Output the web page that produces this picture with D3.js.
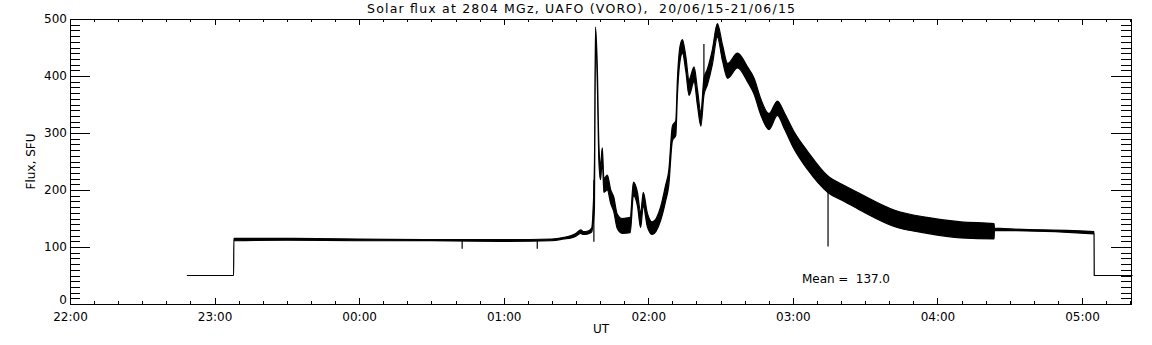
<!DOCTYPE html>
<html lang="en">
<head>
<meta charset="UTF-8">
<title>Solar flux</title>
<script src="https://d3js.org/d3.v7.min.js"></script>
<style>
  body { margin: 0; background: #fff; }
  text { font-family: "DejaVu Sans", sans-serif; fill: #000; }
</style>
</head>
<body>
<div id="chart"></div>
<script>
// envelope of the 2804 MHz record (the trace oscillates fast, so keep low/high)
const times = ["22:48:30", "23:07:54", "23:08:00", "23:30:00", "00:00:00", "00:30:00", "01:00:00",
  "01:20:00", "01:25:00", "01:28:00", "01:30:00", "01:32:00", "01:33:00", "01:35:00", "01:36:30",
  "01:37:00", "01:37:40", "01:38:05", "01:38:50", "01:39:30", "01:40:10", "01:40:55", "01:41:35",
  "01:43:00", "01:44:25", "01:45:40", "01:47:05", "01:49:10", "01:52:30", "01:53:50", "01:55:30",
  "01:56:50", "01:57:55", "01:59:35", "02:01:40", "02:05:05", "02:07:10", "02:08:30", "02:10:00",
  "02:11:25", "02:12:05", "02:13:10", "02:14:10", "02:15:35", "02:16:55", "02:19:00", "02:20:25",
  "02:21:50", "02:23:05", "02:24:30", "02:26:35", "02:28:40", "02:30:50", "02:32:55", "02:37:00",
  "02:41:10", "02:43:55", "02:46:40", "02:50:05", "02:53:35", "02:56:25", "03:00:30", "03:06:05",
  "03:14:25", "03:21:20", "03:28:10", "03:42:00", "03:55:40", "04:09:50", "04:23:30", "04:23:40",
  "05:05:00", "05:05:05", "05:21:00"];
const fluxLow = [50, 50, 111, 112, 111, 111, 110,
  111, 114, 116, 119, 124, 122, 123, 126,
  138, 170, 466, 390, 250, 218, 250, 196,
  200, 176, 162, 133, 124, 125, 190, 172,
  134, 172, 136, 122, 146, 180, 208, 286,
  296, 366, 426, 440, 408, 366, 390, 348,
  312, 366, 384, 420, 468, 426, 396, 414,
  390, 368, 332, 306, 331, 308, 272, 236,
  196, 180, 164, 136, 124, 116, 114, 129,
  123, 50, 50];
const fluxHigh = [50, 50, 115, 115, 114, 113, 113,
  114, 117, 120, 124, 130, 127, 128, 133,
  158, 250, 486, 418, 280, 244, 274, 220,
  226, 200, 188, 158, 150, 152, 214, 196,
  160, 196, 160, 144, 170, 208, 234, 312,
  322, 394, 452, 464, 434, 394, 416, 376,
  336, 396, 412, 446, 492, 454, 422, 440,
  416, 396, 360, 334, 356, 336, 302, 268,
  225, 208, 193, 165, 152, 144, 141, 133,
  127, 50, 50];

// single-sample spikes
const spikeTimes = ["00:42:45", "01:13:55", "01:37:25", "02:23:05", "03:14:36"];
const spikeFrom = [111, 111, 217, 381, 215];
const spikeTo = [97, 97, 109, 456, 101];

const yMajor = [0, 100, 200, 300, 400, 500];
const meanValue = 137.0;
const title = "Solar flux at 2804 MGz, UAFO (VORO),\u00a0\u00a020/06/15-21/06/15";

const width = 1152, height = 345;
const margin = {top: 19, right: 21, bottom: 41, left: 70};

const parse = d3.utcParse("%Y-%m-%d %H:%M:%S");
function toDate(s) {
  const h = +s.slice(0, 2);
  return parse((h >= 12 ? "2015-06-20 " : "2015-06-21 ") + s);
}

const data = times.map((t, i) => ({t: toDate(t), lo: fluxLow[i], hi: fluxHigh[i]}));
const spikes = spikeTimes.map((t, i) => ({t: toDate(t), a: spikeFrom[i], b: spikeTo[i]}));

const x = d3.scaleUtc()
  .domain([toDate("22:00:00"), toDate("05:20:20")])
  .range([margin.left, width - margin.right]);
const y = d3.scaleLinear()
  .domain([0, 500])
  .range([height - margin.bottom, margin.top]);

const svg = d3.select("#chart").append("svg")
  .attr("width", width)
  .attr("height", height);

// axes: IDL style, ticks pointing inward, on all four sides
const fmt = d3.utcFormat("%H:%M");
const hours = d3.utcHour.every(1);
const tenMin = d3.utcMinute.every(10);
const yMinor = d3.range(0, 501, 10);

function styleAxis(g) {
  g.select(".domain").remove();
  g.selectAll("line").attr("stroke", "#000").attr("shape-rendering", "crispEdges");
  g.selectAll("text").style("font-size", "12px").attr("font-family", "DejaVu Sans");
}

svg.append("g")
  .attr("transform", `translate(0,${height - margin.bottom})`)
  .call(d3.axisBottom(x).ticks(tenMin).tickSize(-3).tickFormat(""))
  .call(styleAxis);
svg.append("g")
  .attr("transform", `translate(0,${height - margin.bottom})`)
  .call(d3.axisBottom(x).ticks(hours).tickSize(-6).tickPadding(8).tickFormat(fmt))
  .call(styleAxis);
svg.append("g")
  .attr("transform", `translate(0,${margin.top})`)
  .call(d3.axisTop(x).ticks(tenMin).tickSize(-3).tickFormat(""))
  .call(styleAxis);
svg.append("g")
  .attr("transform", `translate(0,${margin.top})`)
  .call(d3.axisTop(x).ticks(hours).tickSize(-6).tickFormat(""))
  .call(styleAxis);

svg.append("g")
  .attr("transform", `translate(${margin.left},0)`)
  .call(d3.axisLeft(y).tickValues(yMinor).tickSize(-10).tickFormat(""))
  .call(styleAxis);
const yAxis = svg.append("g")
  .attr("transform", `translate(${margin.left},0)`)
  .call(d3.axisLeft(y).tickValues(yMajor).tickSize(-20).tickPadding(3).tickFormat(d3.format("d")))
  .call(styleAxis);
// IDL lifts the zero label a little off the bottom axis
yAxis.selectAll(".tick text").filter(d => d === 0).attr("dy", "-0.05em");

svg.append("g")
  .attr("transform", `translate(${width - margin.right},0)`)
  .call(d3.axisRight(y).tickValues(yMinor).tickSize(-10).tickFormat(""))
  .call(styleAxis);
svg.append("g")
  .attr("transform", `translate(${width - margin.right},0)`)
  .call(d3.axisRight(y).tickValues(yMajor).tickSize(-20).tickFormat(""))
  .call(styleAxis);

// frame
svg.append("rect")
  .attr("x", margin.left + 0.5)
  .attr("y", margin.top + 0.5)
  .attr("width", width - margin.left - margin.right)
  .attr("height", height - margin.top - margin.bottom)
  .attr("fill", "none")
  .attr("stroke", "#000");

// the flux trace
const band = d3.area()
  .curve(d3.curveMonotoneX)
  .x(d => x(d.t))
  .y0(d => y(d.lo))
  .y1(d => y(d.hi));
svg.append("path")
  .datum(data)
  .attr("d", band)
  .attr("fill", "#000")
  .attr("stroke", "#000")
  .attr("stroke-width", 1.2);

svg.selectAll(".spike")
  .data(spikes)
  .join("line")
  .attr("class", "spike")
  .attr("x1", d => x(d.t)).attr("x2", d => x(d.t))
  .attr("y1", d => y(d.a)).attr("y2", d => y(d.b))
  .attr("stroke", "#000")
  .attr("stroke-width", 1.2);

// labels
svg.append("text")
  .attr("x", 367).attr("y", 13)
  .attr("textLength", 428)
  .attr("lengthAdjust", "spacing")
  .style("font-size", "12.5px")
  .text(title);

svg.append("text")
  .attr("transform", `translate(35,${(margin.top + height - margin.bottom) / 2}) rotate(-90)`)
  .attr("text-anchor", "middle")
  .style("font-size", "12px")
  .text("Flux, SFU");

svg.append("text")
  .attr("x", 601).attr("y", 333)
  .attr("text-anchor", "middle")
  .style("font-size", "12px")
  .text("UT");

svg.append("text")
  .attr("x", 802).attr("y", 283)
  .attr("textLength", 88)
  .attr("lengthAdjust", "spacing")
  .style("font-size", "12px")
  .text("Mean =\u00a0\u00a0" + meanValue.toFixed(1));
</script>
</body>
</html>
